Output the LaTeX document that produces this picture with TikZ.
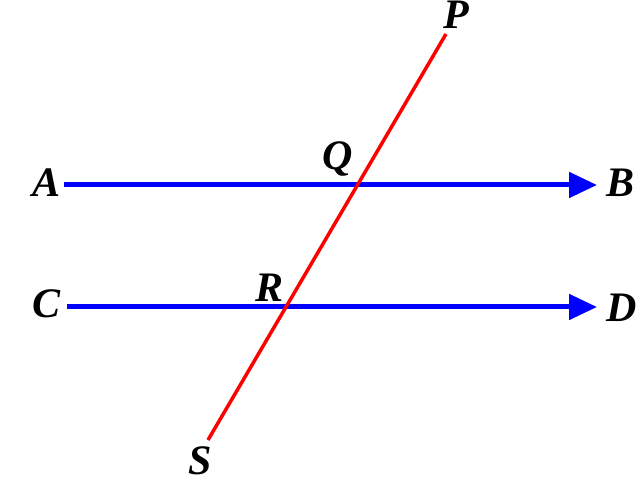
\documentclass[tikz,border=0pt]{standalone}
\usepackage{fontspec}
\setmainfont{Liberation Serif}
\usetikzlibrary{arrows.meta}
\begin{document}
\begin{tikzpicture}[x=1pt,y=-1pt,
  lbl/.style={font=\fontsize{42}{42}\selectfont\bfseries\itshape, inner sep=0pt, text height=28pt, text depth=0pt, text=black},
  par/.style={draw=blue, line width=5pt, -{Triangle[length=28pt,width=25pt]}},
  trans/.style={draw=red, line width=3.5pt}]
\useasboundingbox (0,0) rectangle (640,478);
% line end points
\coordinate (a0) at (64,185);
\coordinate (b0) at (597,185);
\coordinate (c0) at (67,307);
\coordinate (d0) at (597,307);
\coordinate (p0) at (446,34);
\coordinate (s0) at (208,440);
% labels
\node[lbl] (A) at (47,183) {A};
\node[lbl] (B) at (621,183) {B};
\node[lbl] (C) at (47,304) {C};
\node[lbl] (D) at (622,308) {D};
\node[lbl] (P) at (456,15) {P};
\node[lbl] (Q) at (338,156) {Q};
\node[lbl] (R) at (270,288) {R};
\node[lbl] (S) at (200,460) {S};
% lines
\draw[par] (a0) -- (b0);
\draw[par] (c0) -- (d0);
\draw[trans] (p0) -- (s0);
\end{tikzpicture}
\end{document}
